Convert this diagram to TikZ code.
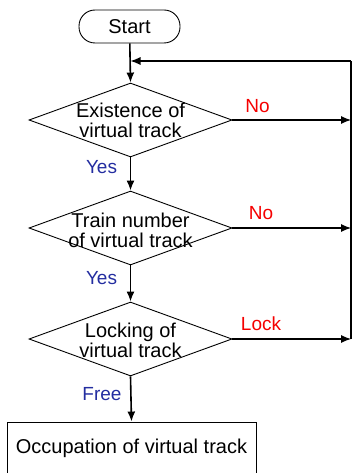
\documentclass[tikz,border=0pt]{standalone}
\usepackage{fontspec}
\setmainfont{Liberation Sans}
\usetikzlibrary{shapes.geometric,arrows.meta}
\definecolor{yesblue}{RGB}{35,45,160}
\definecolor{nored}{RGB}{245,0,0}
\begin{document}
\begin{tikzpicture}[x=1pt,y=-1pt,
  txt/.style={font=\fontsize{20}{20}\selectfont},
  lab/.style={font=\fontsize{19}{20}\selectfont},
  dia/.style={draw,line width=0.9pt,shape=diamond,minimum width=203pt,minimum height=74pt,inner sep=0pt},
  dlabel/.style={txt,align=center,inner sep=0pt},
  flow/.style={line width=1.6pt,-{Latex[length=10pt,width=8pt]}},
  side/.style={line width=1.1pt,-{Latex[length=10pt,width=8pt]}},
  yes/.style={lab,text=yesblue,inner sep=0pt},
  no/.style={lab,text=nored,inner sep=0pt}]
\useasboundingbox (0,0) rectangle (352,473);
\node[draw,line width=0.9pt,rounded corners=16pt,minimum width=101pt,minimum height=33pt,txt,inner sep=0pt] (start) at (129.5,26.5) {Start};
\node[dia] (d1) at (130.5,120) {};
\node[dlabel] (t1) at (130.5,120) {Existence of\\virtual track};
\node[dia] (d2) at (130.5,228) {};
\node[dlabel] (t2) at (130.5,230) {Train number\\of virtual track};
\node[dia] (d3) at (130.5,339) {};
\node[dlabel] (t3) at (130.5,340) {Locking of\\virtual track};
\node[draw,line width=0.9pt,minimum width=249pt,minimum height=52pt,txt,inner sep=0pt] (occ) at (131.5,448) {Occupation of virtual track};
\coordinate (r0) at (351,61);
\coordinate (r1) at (351,120);
\coordinate (r2) at (351,228);
\coordinate (r3) at (351,339);
\coordinate (j) at (130.5,61);
\draw[flow] (start) -- (d1.north);
\draw[flow] (d1.south) -- (d2.north);
\draw[flow] (d2.south) -- (d3.north);
\draw[flow] (d3.south) -- (occ.north);
\draw[side] (d1.east) -- (r1);
\draw[side] (d2.east) -- (r2);
\draw[side] (d3.east) -- (r3);
\draw[line width=1.1pt] (r3) -- (r0);
\draw[side] (r0) -- (j);
\node[yes] (y1) at (101.5,167) {Yes};
\node[yes] (y2) at (101.5,278) {Yes};
\node[yes] (fr) at (102,394) {Free};
\node[no] (n1) at (257.5,106) {No};
\node[no] (n2) at (261,213) {No};
\node[no] (lk) at (261,324) {Lock};
\end{tikzpicture}
\end{document}
